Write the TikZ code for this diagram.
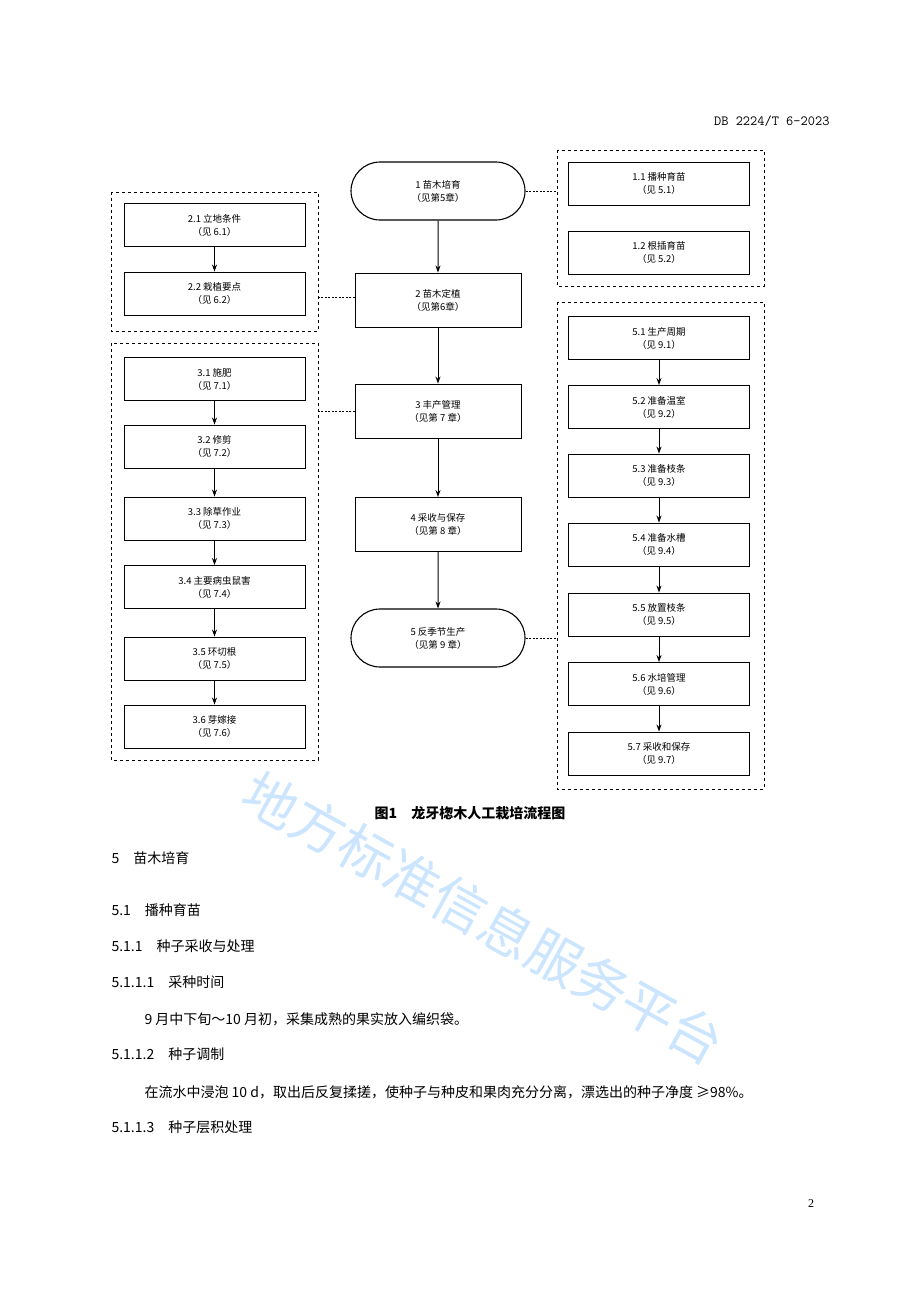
\documentclass[tikz,border=0pt]{standalone}
\usepackage{fontspec}
\setmainfont{Liberation Serif}
\newfontfamily\cjk{Noto Sans CJK SC}
\usetikzlibrary{arrows.meta,shapes.misc}
\begin{document}
\begin{tikzpicture}[x=1pt,y=-1pt,
  bx/.style={draw,line width=0.9pt,minimum width=#1,minimum height=43pt,inner sep=0pt,align=center,font=\cjk\fontsize{9.5}{13}\selectfont},
  bx/.default=181pt,
  cbx/.style={bx=166pt,minimum height=54pt},
  term/.style={draw,line width=1.1pt,rounded rectangle,minimum width=174pt,minimum height=58pt,inner sep=0pt,align=center,font=\cjk\fontsize{9.5}{13}\selectfont},
  grp/.style={draw,dashed,line width=0.8pt},
  arr/.style={-{Stealth[length=7pt,width=5pt]},line width=1pt},
  dl/.style={line width=0.8pt,dash pattern=on 2pt off 1.5pt},
  hd/.style={anchor=west,font=\cjk\fontsize{14}{16}\selectfont},
  bd/.style={anchor=west,font=\cjk\fontsize{14}{16}\selectfont}]
\useasboundingbox[fill=white] (0,0) rectangle (920,1302);
% watermark
\node[rotate=-29,text=blue!50!cyan,opacity=0.2,font=\cjk\itshape\fontsize{54}{54}\selectfont] (wm) at (484,918) {地方标准信息服务平台};
\node[anchor=east,font=\ttfamily\fontsize{14}{16}\selectfont] (hdr) at (833,121) {DB 2224/T 6—2023};
% groups
\draw[grp] (111,192) rectangle (318,331);
\draw[grp] (111,343) rectangle (318,760);
\draw[grp] (557,150) rectangle (764,286);
\draw[grp] (557,302) rectangle (764,789);
\coordinate (g1e) at (318,297); \coordinate (g2e) at (318,411);
\coordinate (g3w) at (557,191); \coordinate (g4w) at (557,638);
% center
\node[term] (c1) at (438,191) {1 苗木培育\\（见第5章）};
\node[cbx] (c2) at (438,300) {2 苗木定植\\（见第6章）};
\node[cbx] (c3) at (438,411) {3 丰产管理\\（见第 7 章）};
\node[cbx] (c4) at (438,524.5) {4 采收与保存\\（见第 8 章）};
\node[term] (c5) at (438,638) {5 反季节生产\\（见第 9 章）};
\draw[arr] (c1)--(c2); \draw[arr] (c2)--(c3); \draw[arr] (c3)--(c4); \draw[arr] (c4)--(c5);
\draw[dl] (c1.east)--(g3w);
\draw[dl] (c2.west|-g1e)--(g1e);
\draw[dl] (c3.west)--(g2e);
\draw[dl] (c5.east)--(g4w);
% left
\node[bx] (a1) at (214.5,225) {2.1 立地条件\\（见 6.1）};
\node[bx] (a2) at (214.5,293.5) {2.2 栽植要点\\（见 6.2）};
\draw[arr] (a1)--(a2);
\node[bx] (b1) at (214.5,379) {3.1 施肥\\（见 7.1）};
\node[bx] (b2) at (214.5,446.5) {3.2 修剪\\（见 7.2）};
\node[bx] (b3) at (214.5,518.5) {3.3 除草作业\\（见 7.3）};
\node[bx] (b4) at (214.5,587) {3.4 主要病虫鼠害\\（见 7.4）};
\node[bx] (b5) at (214.5,658.5) {3.5 环切根\\（见 7.5）};
\node[bx] (b6) at (214.5,726.5) {3.6 芽嫁接\\（见 7.6）};
\foreach \i/\j in {b1/b2,b2/b3,b3/b4,b4/b5,b5/b6} \draw[arr] (\i)--(\j);
% right
\node[bx] (r1) at (659,183.5) {1.1 播种育苗\\（见 5.1）};
\node[bx] (r2) at (659,252.5) {1.2 根插育苗\\（见 5.2）};
\node[bx] (s1) at (659,338) {5.1 生产周期\\（见 9.1）};
\node[bx] (s2) at (659,407) {5.2 准备温室\\（见 9.2）};
\node[bx] (s3) at (659,475.5) {5.3 准备枝条\\（见 9.3）};
\node[bx] (s4) at (659,544.5) {5.4 准备水槽\\（见 9.4）};
\node[bx] (s5) at (659,614.5) {5.5 放置枝条\\（见 9.5）};
\node[bx] (s6) at (659,684) {5.6 水培管理\\（见 9.6）};
\node[bx] (s7) at (659,753.5) {5.7 采收和保存\\（见 9.7）};
\foreach \i/\j in {s1/s2,s2/s3,s3/s4,s4/s5,s5/s6,s6/s7} \draw[arr] (\i)--(\j);
% caption and text
\node[font=\cjk\bfseries\fontsize{14}{16}\selectfont] (cap) at (470,813) {图1\quad 龙牙楤木人工栽培流程图};
\node[hd] (t1) at (108,858) {5\quad 苗木培育};
\node[hd] (t2) at (108,910) {5.1\quad 播种育苗};
\node[hd] (t3) at (108,946) {5.1.1\quad 种子采收与处理};
\node[hd] (t4) at (108,982) {5.1.1.1\quad 采种时间};
\node[bd] (p1) at (141,1019) {9 月中下旬～10 月初，采集成熟的果实放入编织袋。};
\node[hd] (t5) at (108,1054) {5.1.1.2\quad 种子调制};
\node[bd] (p2) at (141,1092) {在流水中浸泡 10 d，取出后反复揉搓，使种子与种皮和果肉充分分离，漂选出的种子净度 ≥98\%。};
\node[hd] (t6) at (108,1127) {5.1.1.3\quad 种子层积处理};
\node[font=\fontsize{12}{14}\selectfont] (pg) at (811,1204) {2};
\end{tikzpicture}
\end{document}
